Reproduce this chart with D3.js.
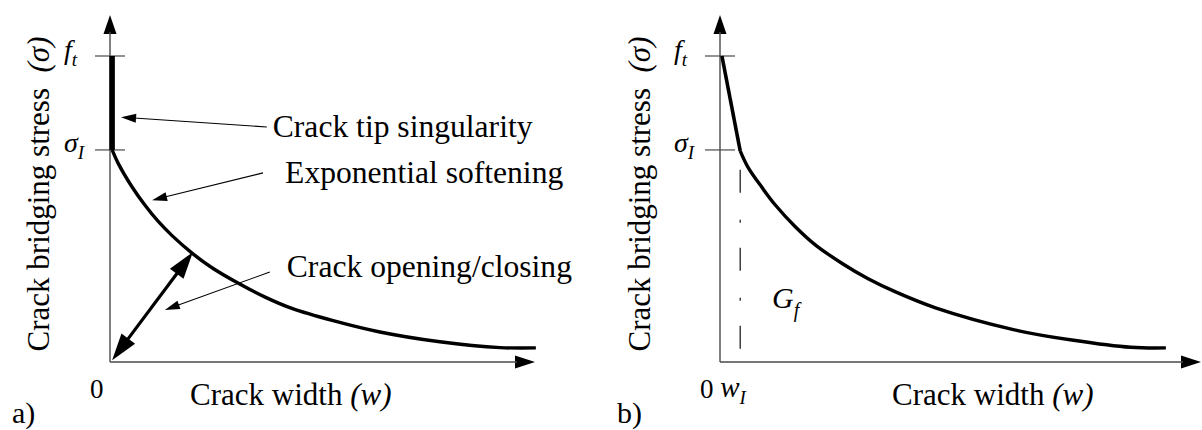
<!DOCTYPE html>
<html><head><meta charset="utf-8">
<script src="https://cdn.jsdelivr.net/npm/d3@7"></script>
<style>
body{margin:0;background:#fff}
text{font-family:"Liberation Serif","Times New Roman",serif;fill:#000}
</style>
</head><body>
<svg id="c" width="1202" height="430"></svg>
<script>
// ---------------- data ----------------
const stressLevels = [1.0, 0.693];          // f_t, sigma_I (normalised)
const stressMain = ["f", "σ"];
const stressSub = ["t", "I"];
// panel a) : crack tip singularity (vertical) + exponential softening
const singA_w = [0.05, 0.05];
const singA_s = [1.0, 0.693];
const curveA_w = [0.05, 0.19, 0.52, 0.82, 1.13, 1.46, 1.93, 2.40, 3.01, 3.65, 4.28, 5.25, 6.35, 7.76, 9.18, 10.02];
const curveA_s = [0.693, 0.650, 0.572, 0.513, 0.460, 0.413, 0.356, 0.308, 0.258, 0.212, 0.175, 0.135, 0.098, 0.066, 0.047, 0.046];
// panel b) : linear branch + exponential softening
const linB_w = [0.04, 0.42];
const linB_s = [1.0, 0.690];
const curveB_w = [0.42, 0.58, 0.875, 1.15, 1.56, 1.98, 2.54, 3.08, 3.65, 4.48, 6.10, 7.35, 8.54, 9.27];
const curveB_s = [0.690, 0.637, 0.570, 0.513, 0.443, 0.383, 0.322, 0.272, 0.229, 0.177, 0.106, 0.071, 0.048, 0.046];
const wI = 0.42;
const annotations = ["Crack tip singularity", "Exponential softening", "Crack opening/closing"];
const xTitle = "Crack width ";
const xTitleVar = "(w)";
const yTitle = "Crack bridging stress  ";
const yTitleVar = "(σ)";
const panelTags = ["a)", "b)"];

// ---------------- layout ----------------
const svg = d3.select("#c");
const y = d3.scaleLinear().domain([0, 1]).range([362, 56]);
const xA = d3.scaleLinear().domain([0, 10]).range([110, 535]);
const xB = d3.scaleLinear().domain([0, 10]).range([720, 1201]);
const yTop = 1.134;
const axisColor = "#4a4a4a";

function arrow(g, x1, y1, x2, y2, o) {
  const len = o.len, hw = o.hw;
  const dx = x2 - x1, dy = y2 - y1, L = Math.hypot(dx, dy);
  const ux = dx / L, uy = dy / L, px = -uy, py = ux;
  let sx = x1, sy = y1, ex = x2, ey = y2;
  const head = (tx, ty, dirx, diry) => {
    const bx = tx - dirx * len, by = ty - diry * len;
    g.append("path")
      .attr("d", `M${tx},${ty}L${bx + px * hw},${by + py * hw}L${bx - px * hw},${by - py * hw}Z`)
      .attr("fill", o.color);
  };
  if (o.end !== false) { head(x2, y2, ux, uy); ex = x2 - ux * (len - 2); ey = y2 - uy * (len - 2); }
  if (o.start) { head(x1, y1, -ux, -uy); sx = x1 + ux * (len - 2); sy = y1 + uy * (len - 2); }
  g.append("line").attr("x1", sx).attr("y1", sy).attr("x2", ex).attr("y2", ey)
    .attr("stroke", o.lineColor || o.color).attr("stroke-width", o.width);
}

function panel(x, opts) {
  const g = svg.append("g");
  // axes
  arrow(g, x(0), y(0), x(0), y(yTop), {len: 19, hw: 6.5, width: 1.4, color: "#000", lineColor: axisColor});
  arrow(g, x(0), y(0), x.range()[1], y(0), {len: 20, hw: 6.5, width: 1.4, color: "#000", lineColor: axisColor});
  // ticks + labels
  stressLevels.forEach((v, i) => {
    g.append("line").attr("x1", x(0) - 15).attr("x2", x(0) + 15)
      .attr("y1", y(v)).attr("y2", y(v)).attr("stroke", axisColor).attr("stroke-width", 1.2);
    const t = g.append("text").attr("x", x(0) - 46).attr("y", y(v) + (i === 0 ? 3 : 2))
      .style("font-size", "28px").style("font-style", "italic");
    t.append("tspan").text(stressMain[i]);
    t.append("tspan").attr("dy", 7).style("font-size", "19px").text(stressSub[i]);
  });
  // zero label
  g.append("text").attr("x", x(0) - 20).attr("y", 398).style("font-size", "27px").text("0");
  // y title
  const yt = g.append("text").attr("transform", `translate(${opts.yTitleX},194) rotate(-90)`)
    .attr("text-anchor", "middle").style("font-size", "31px").attr("xml:space", "preserve");
  yt.append("tspan").text(yTitle);
  yt.append("tspan").style("font-style", "italic").text(yTitleVar);
  // x title
  const xt = g.append("text").attr("x", opts.xTitleX).attr("y", 405).style("font-size", "31px");
  xt.append("tspan").text(xTitle);
  xt.append("tspan").style("font-style", "italic").text(xTitleVar);
  // tag
  g.append("text").attr("x", opts.tagX).attr("y", 423).style("font-size", "30px").text(opts.tag);
  return g;
}

const smooth = d3.curveCatmullRom.alpha(0.5);
const line = (x, curve) => d3.line().x(d => x(d[0])).y(d => y(d[1])).curve(curve);

// ----- panel a -----
const gA = panel(xA, {xTitleX: 190, tagX: 12, tag: panelTags[0], yTitleX: 49});
gA.append("path").datum(d3.zip(singA_w, singA_s))
  .attr("d", line(xA, d3.curveLinear)).attr("fill", "none").attr("stroke", "#000").attr("stroke-width", 5.5);
gA.append("path").datum(d3.zip(curveA_w, curveA_s))
  .attr("d", line(xA, smooth)).attr("fill", "none").attr("stroke", "#000").attr("stroke-width", 3.4);
// crack opening/closing double arrow
arrow(gA, xA(0.05), y(0.006), xA(1.95), y(0.359), {len: 27, hw: 8.5, width: 3.2, color: "#000", start: true});
// annotations
const annPos = [
  {tx: 3.83, ty: 0.735, from: [3.69, 0.768], to: [0.26, 0.80]},
  {tx: 4.12, ty: 0.584, from: [3.6, 0.618], to: [0.99, 0.529]},
  {tx: 4.16, ty: 0.278, from: [3.76, 0.294], to: [1.29, 0.170]}
];
annotations.forEach((t, i) => {
  const p = annPos[i];
  gA.append("text").attr("x", xA(p.tx)).attr("y", y(p.ty)).style("font-size", "31.6px").text(t);
  arrow(gA, xA(p.from[0]), y(p.from[1]), xA(p.to[0]), y(p.to[1]), {len: 15, hw: 4.5, width: 1.1, color: "#000"});
});

// ----- panel b -----
const gB = panel(xB, {xTitleX: 892, tagX: 617, tag: panelTags[1], yTitleX: 650});
// dash-dot line at w_I
gB.append("line").attr("x1", xB(wI)).attr("x2", xB(wI)).attr("y1", y(0.690)).attr("y2", y(0.04))
  .attr("stroke", "#222").attr("stroke-width", 1.3)
  .attr("stroke-dasharray", "23,27,3,25").attr("stroke-dashoffset", 59);
gB.append("path").datum(d3.zip(linB_w, linB_s))
  .attr("d", line(xB, d3.curveLinear)).attr("fill", "none").attr("stroke", "#000").attr("stroke-width", 3.6)
  .attr("stroke-linejoin", "round");
gB.append("path").datum(d3.zip(curveB_w, curveB_s))
  .attr("d", line(xB, smooth)).attr("fill", "none").attr("stroke", "#000").attr("stroke-width", 3.4);
// w_I label
const wl = gB.append("text").attr("x", xB(wI) - 20).attr("y", 397).style("font-size", "29px").style("font-style", "italic");
wl.append("tspan").text("w");
wl.append("tspan").attr("dy", 7).style("font-size", "19px").text("I");
// G_f label
const gl = gB.append("text").attr("x", 772).attr("y", 308).style("font-size", "30px").style("font-style", "italic");
gl.append("tspan").text("G");
gl.append("tspan").attr("dy", 9).style("font-size", "20px").text("f");
</script>
</body></html>
